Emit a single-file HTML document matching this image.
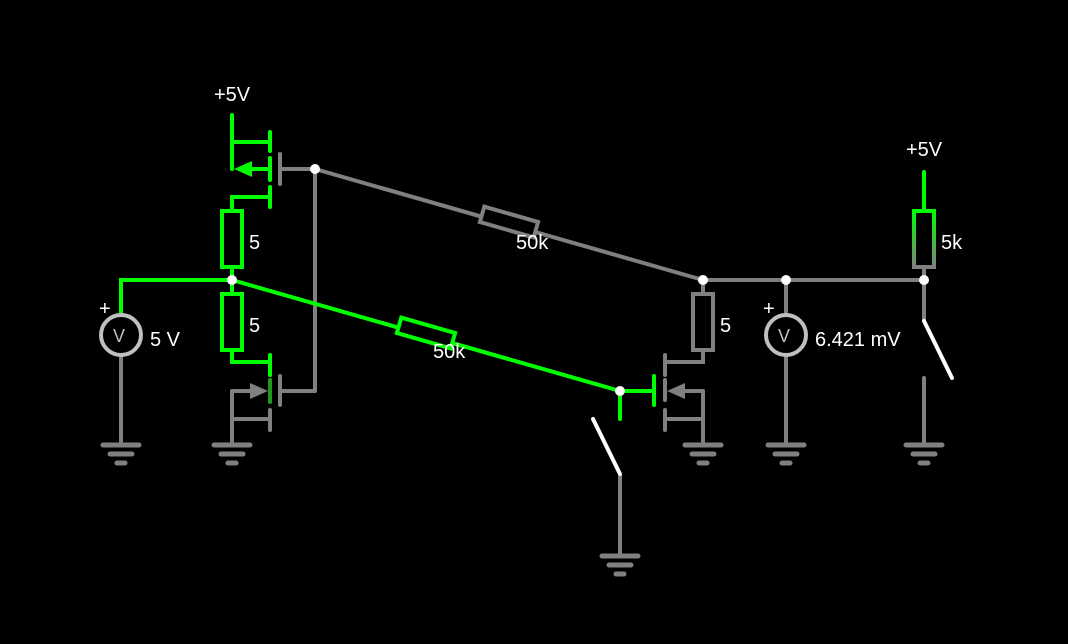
<!DOCTYPE html>
<html><head><meta charset="utf-8"><style>
html,body{margin:0;padding:0;background:#000;}
svg{display:block}
text{font-family:"Liberation Sans",sans-serif;fill:#fff;font-size:20px}
</style></head><body>
<svg width="1068" height="644" viewBox="0 0 1068 644" xmlns="http://www.w3.org/2000/svg">
<defs>
<g id="gnd" stroke="#808080" stroke-width="5" stroke-linecap="round">
<line x1="-18" y1="0" x2="18" y2="0"/><line x1="-11" y1="9" x2="11" y2="9"/><line x1="-4" y1="18" x2="4" y2="18"/>
</g>
<linearGradient id="rg" x1="0" y1="0" x2="0" y2="1"><stop offset="0" stop-color="#00ff00"/><stop offset="1" stop-color="#808080"/></linearGradient>
</defs>
<g fill="none" stroke-width="4" stroke-linecap="round">
<g stroke="#808080">
<line x1="315" y1="169" x2="703" y2="280"/>
<line x1="315" y1="169" x2="315" y2="391"/>
<line x1="280" y1="169" x2="315" y2="169"/>
<line x1="280" y1="391" x2="315" y2="391"/>
<line x1="280" y1="376" x2="280" y2="405"/>
<line x1="270" y1="355" x2="270" y2="375"/>
<line x1="270" y1="410" x2="270" y2="430"/>
<line x1="232" y1="391" x2="255" y2="391"/>
<line x1="232" y1="419" x2="270" y2="419"/>
<line x1="232" y1="391" x2="232" y2="445"/>
<line x1="121" y1="355" x2="121" y2="445"/>
<line x1="703" y1="280" x2="924" y2="280"/>
<line x1="703" y1="280" x2="703" y2="294"/>
<rect x="693" y="294" width="20" height="56"/>
<polyline points="703,350 703,362 665,362"/>
<line x1="665" y1="355" x2="665" y2="375"/>
<line x1="665" y1="380" x2="665" y2="400"/>
<line x1="665" y1="410" x2="665" y2="430"/>
<line x1="682" y1="391" x2="703" y2="391"/>
<line x1="665" y1="419" x2="703" y2="419"/>
<line x1="703" y1="391" x2="703" y2="445"/>
<line x1="786" y1="280" x2="786" y2="315"/>
<line x1="786" y1="355" x2="786" y2="445"/>
<line x1="924" y1="267" x2="924" y2="320"/>
<line x1="924" y1="378" x2="924" y2="445"/>
<line x1="620" y1="476" x2="620" y2="556"/>
</g>
<polygon points="250,383 268,391 250,399" fill="#808080" stroke="none"/>
<polygon points="685,383 667,391 685,399" fill="#808080" stroke="none"/>
<g transform="translate(509,222) rotate(16)"><rect x="-28" y="-8" width="56" height="16" fill="#000" stroke="#808080"/></g>
<g stroke="#00ff00">
<line x1="232" y1="280" x2="620" y2="391"/>
<line x1="232" y1="115" x2="232" y2="169"/>
<line x1="232" y1="142" x2="270" y2="142"/>
<line x1="250" y1="169" x2="270" y2="169"/>
<line x1="270" y1="132" x2="270" y2="151"/>
<line x1="270" y1="158" x2="270" y2="180"/>
<line x1="270" y1="187" x2="270" y2="207"/>
<polyline points="270,197 232,197 232,211"/>
<rect x="222" y="211" width="20" height="56"/>
<line x1="232" y1="267" x2="232" y2="294"/>
<rect x="222" y="294" width="20" height="56"/>
<polyline points="232,350 232,362 270,362"/>
<line x1="270" y1="355" x2="270" y2="375"/>
<line x1="270" y1="380" x2="270" y2="402" stroke="#1f9a1f"/>
<polyline points="232,280 121,280 121,315"/>
<line x1="620" y1="391" x2="654" y2="391"/>
<line x1="654" y1="376" x2="654" y2="405"/>
<line x1="620" y1="391" x2="620" y2="419"/>
<line x1="924" y1="172" x2="924" y2="211"/>
</g>
<line x1="280" y1="154" x2="280" y2="184" stroke="#808080"/>
<polygon points="234,169 252,161 252,177" fill="#00ff00"/>
<g transform="translate(426,333) rotate(16)"><rect x="-28" y="-8" width="56" height="16" fill="#000" stroke="#00ff00"/></g>
<rect x="914" y="211" width="20" height="56" stroke="url(#rg)"/>
<line x1="593" y1="419" x2="620" y2="474" stroke="#fff"/>
<line x1="924" y1="321" x2="952" y2="378" stroke="#fff"/>
<circle cx="121" cy="335" r="20" stroke="#c0c0c0"/>
<circle cx="786" cy="335" r="20" stroke="#c0c0c0"/>
</g>
<use href="#gnd" x="121" y="445"/><use href="#gnd" x="232" y="445"/><use href="#gnd" x="703" y="445"/>
<use href="#gnd" x="786" y="445"/><use href="#gnd" x="924" y="445"/><use href="#gnd" x="620" y="556"/>
<g fill="#fff">
<circle cx="315" cy="169" r="5"/><circle cx="232" cy="280" r="5"/><circle cx="703" cy="280" r="5"/>
<circle cx="786" cy="280" r="5"/><circle cx="924" cy="280" r="5"/><circle cx="620" cy="391" r="5"/>
</g>
<text x="214" y="101">+5V</text>
<text x="906" y="156">+5V</text>
<text x="249" y="249">5</text>
<text x="249" y="332">5</text>
<text x="720" y="332">5</text>
<text x="941" y="249">5k</text>
<text x="516" y="249">50k</text>
<text x="433" y="358">50k</text>
<text x="99" y="315" font-size="17">+</text>
<text x="763" y="315" font-size="17">+</text>
<text x="150" y="346">5 V</text>
<text x="815" y="346">6.421 mV</text>
<text x="113" y="342" style="fill:#c0c0c0;font-size:18px">V</text>
<text x="778" y="342" style="fill:#c0c0c0;font-size:18px">V</text>
</svg>
</body></html>
